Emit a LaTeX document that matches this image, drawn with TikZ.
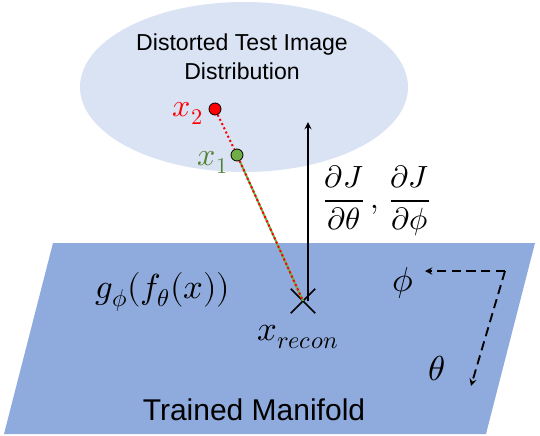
\documentclass[tikz,border=0pt]{standalone}
\usepackage{amsmath}
\usepackage{fontspec}
\usepackage{unicode-math}
\setmainfont{Liberation Sans}
\setmathfont{Latin Modern Math}
\usepackage{tikz}
\usetikzlibrary{shapes,arrows,positioning,calc}

\definecolor{distfill}{HTML}{DAE3F3}
\definecolor{manifill}{HTML}{8FAADC}
\definecolor{dotgreen}{HTML}{70AD47}
\definecolor{labgreen}{HTML}{548235}

\begin{document}
\begin{tikzpicture}[
    x=0.75pt, y=-0.75pt,
    region/.style={ellipse, fill=distfill, minimum width=246pt, minimum height=127.5pt, inner sep=0pt},
    sample/.style={circle, draw=black, line width=0.6pt, minimum size=9pt, inner sep=0pt},
    mathlbl/.style={font=\fontsize{26}{30}\selectfont, inner sep=0pt},
    recon/.style={cross out, draw=black, line width=1.3pt, minimum size=17pt, inner sep=0pt},
    arrow/.style={line width=1.4pt,->,>=stealth},
    dasharrow/.style={line width=1.4pt,->,>=stealth, dash pattern=on 7pt off 4pt}
]
\useasboundingbox (0,0) rectangle (540,436);

\node (distrib) [region] at (244,87) {};
\node (distname) [align=center, font=\fontsize{17.3}{21.5}\selectfont] at (242,57) {Distorted Test Image\\Distribution};

% manifold plane
\fill[manifill] (53,243) -- (535,243) -- (486,434) -- (4,434) -- cycle;
\node (maniname) [font=\fontsize{22.5}{26}\selectfont] at (254,410) {Trained Manifold};

\node (xr) [recon] at (303,301) {};
\node (x2) [sample, fill=red] at (215,109) {};
\node (x1) [sample, fill=dotgreen] at (237,155) {};

\node (x2lbl) [mathlbl, text=red, font=\fontsize{24}{28}\selectfont] at (188,113) {$x_2$};
\node (x1lbl) [mathlbl, text=labgreen, font=\fontsize{24}{28}\selectfont] at (213,162) {$x_1$};
\node (xrlbl) [mathlbl] at (298,337) {$x_{recon}$};
\node (glbl) [mathlbl] at (163,292) {$g_\phi(f_\theta(x))$};
\node (grad) [mathlbl, font=\fontsize{23}{27}\selectfont] at (377,201) {$\dfrac{\partial J}{\partial\theta}\,,\,\dfrac{\partial J}{\partial\phi}$};
\node (philbl) [mathlbl] at (403,283) {$\phi$};
\node (thetalbl) [mathlbl] at (437,368) {$\theta$};

\coordinate (gradtop) at (308,122);
\coordinate (corner) at (505,271);
\coordinate (phiend) at (425,271);
\coordinate (thetaend) at (471,386);

% Arrows
\draw [red, line width=1.5pt, dotted] (x2) -- (x1);
\draw [dotgreen, line width=1.5pt] (x1) -- (xr.center);
\draw [red, line width=1.5pt, dotted] (x1) -- (xr.center);
\draw [arrow] (xr.center -| gradtop) -- (gradtop);
\draw [dasharrow] (corner) -- (phiend);
\draw [dasharrow] (corner) -- (thetaend);

\end{tikzpicture}
\end{document}
